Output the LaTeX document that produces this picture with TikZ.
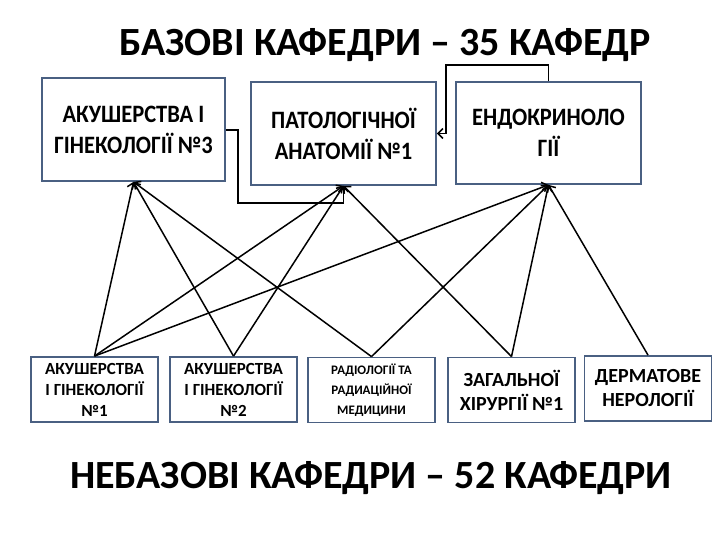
\documentclass[tikz,border=0pt]{standalone}
\usepackage{fontspec}
\setmainfont{Carlito}
\newfontfamily\tallfont{Carlito}[FakeStretch=0.9]
\usepackage{xcolor}
\usetikzlibrary{arrows.meta}
\definecolor{boxblue}{RGB}{74,96,130}

\begin{document}
\begin{tikzpicture}[x=1pt, y=-1pt, line width=1.5pt, >={Straight Barb[length=5pt,width=10pt]},
    dept/.style={draw=boxblue, line width=1.8pt, fill=white, align=center, inner sep=2pt,
      font=\tallfont\bfseries\fontsize{25}{31}\selectfont},
    nondept/.style={dept, minimum width=127pt, minimum height=65pt,
      font=\bfseries\fontsize{17}{21}\selectfont},
    ttl/.style={font=\bfseries\fontsize{40}{44}\selectfont}]
  \useasboundingbox (0,0) rectangle (720,540);
  % headings
  \node[ttl] (top) at (385,45) {БАЗОВІ КАФЕДРИ – 35 КАФЕДР};
  \node[ttl] (bottom) at (371,478) {НЕБАЗОВІ КАФЕДРИ – 52 КАФЕДРИ};
  % base departments
  \node[dept, minimum width=183pt, minimum height=103pt] (akush3) at (133.5,129.5) {АКУШЕРСТВА І\\ГІНЕКОЛОГІЇ №3};
  \node[dept, minimum width=185pt, minimum height=103pt] (patol) at (343.5,133.5) {ПАТОЛОГІЧНОЇ\\АНАТОМІЇ №1};
  \node[dept, minimum width=185pt, minimum height=102pt] (endo) at (548.5,133) {ЕНДОКРИНОЛО\\ГІЇ};
  % non-base departments
  \node[nondept] (akush1) at (94.5,389.5) {АКУШЕРСТВА\\І ГІНЕКОЛОГІЇ\\№1};
  \node[nondept] (akush2) at (233.5,389.5) {АКУШЕРСТВА\\І ГІНЕКОЛОГІЇ\\№2};
  \node[nondept, font=\bfseries\fontsize{13}{20}\selectfont] (radio) at (371.5,390) {РАДІОЛОГІЇ ТА\\РАДИАЦІЙНОЇ\\МЕДИЦИНИ};
  \node[nondept, font=\bfseries\fontsize{20}{24}\selectfont] (zahal) at (511.5,390) {ЗАГАЛЬНОЇ\\ХІРУРГІЇ №1};
  \node[nondept, font=\bfseries\fontsize{20}{24}\selectfont] (derm) at (648,388.5) {ДЕРМАТОВЕ\\НЕРОЛОГІЇ};
  % links between the top boxes
  \coordinate (bendA) at (238,130);
  \coordinate (bendE) at (446,65);
  \draw[->] (akush3.east |- bendA) -- (bendA) -- (238,203) -| (patol.south);
  \draw[->] (endo.north) |- (bendE) |- (patol.east);
  % who belongs to whom
  \foreach \from/\to in {akush1/akush3, akush1/patol, akush1/endo, akush2/akush3, akush2/patol,
      radio/akush3, radio/endo, zahal/patol, zahal/endo, derm/endo}
    \draw[->] (\from.north) -- (\to.south);
\end{tikzpicture}
\end{document}
